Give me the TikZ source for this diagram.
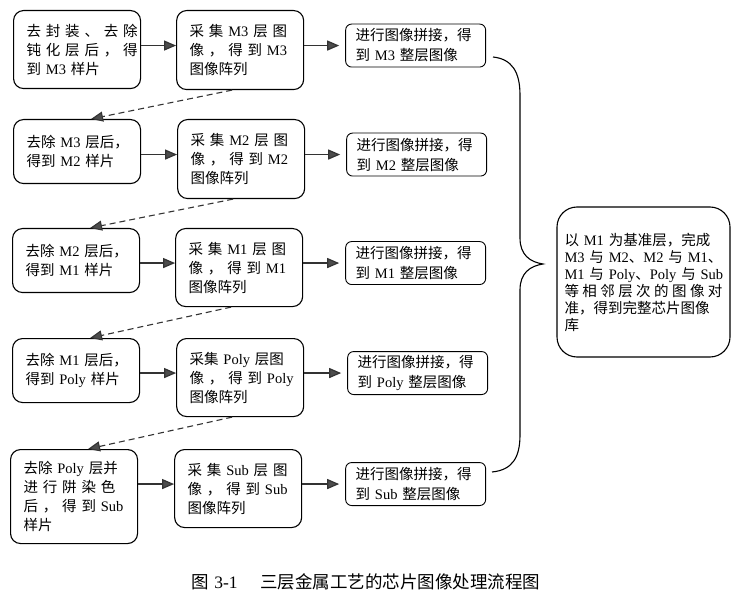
\documentclass[tikz,border=0pt]{standalone}
\usepackage{fontspec}
\setmainfont{Liberation Serif}
\newfontfamily\cjk[WordSpace=0.28]{Noto Sans CJK SC}
\usetikzlibrary{positioning, arrows.meta}

\newcommand{\lat}[1]{{\rmfamily #1}}
\newcommand{\jline}[1]{\makebox[\hsize][s]{#1}\\}

\tikzset{
  stepbox/.style={draw, rounded corners=10pt, line width=1.1pt, align=left,
    text width=101pt, inner xsep=13pt, inner ysep=4pt,
    font=\cjk\fontsize{14.5}{19}\selectfont},
  mosaic/.style={draw, rounded corners=6pt, line width=0.9pt, align=left,
    text width=120pt, inner xsep=10pt, inner ysep=3pt, minimum height=43pt,
    font=\cjk\fontsize{14.5}{20}\selectfont},
  result/.style={draw, rounded corners=20pt, line width=1.1pt, align=left,
    text width=158pt, inner xsep=7.5pt, minimum height=150pt,
    font=\cjk\fontsize{14.5}{17}\selectfont},
  flow/.style={->, draw=black!80, line width=1.2pt},
  peel/.style={->, draw=black!80, line width=1.1pt, dash pattern=on 6pt off 4pt},
}

\begin{document}
\begin{tikzpicture}[x=1pt, y=-1pt, >={Triangle[length=12pt, width=10pt, fill=black!70]}]
        \useasboundingbox (0,0) rectangle (748,599);

        % first column: preparing the samples
        \node (a1) [stepbox, minimum height=78pt, anchor=north west] at (13,10)
            {\jline{去 封 装 、 去 除}\jline{钝 化 层 后 ， 得}到 \lat{M3} 样片};
        \node (a2) [stepbox, minimum height=64pt, anchor=north west] at (13,119)
            {\jline{去除 \lat{M3} 层后，}得到 \lat{M2} 样片};
        \node (a3) [stepbox, minimum height=64pt, anchor=north west] at (12,228)
            {\jline{去除 \lat{M2} 层后，}得到 \lat{M1} 样片};
        \node (a4) [stepbox, minimum height=64pt, anchor=north west] at (12,338)
            {\jline{去除 \lat{M1} 层后，}得到 \lat{Poly} 样片};
        \node (a5) [stepbox, minimum height=94pt, anchor=north west] at (10,449)
            {\jline{去除 \lat{Poly} 层并}\jline{进 行 阱 染 色}\jline{后 ， 得 到 \lat{Sub}}样片};

        % second column: image arrays
        \node (b1) [stepbox, minimum height=79pt, right=35pt of a1.north east, anchor=north west]
            {\jline{采 集 \lat{M3} 层 图}\jline{像 ， 得 到 \lat{M3}}图像阵列};
        \node (b2) [stepbox, minimum height=79pt, right=36pt of a2.north east, anchor=north west]
            {\jline{采 集 \lat{M2} 层 图}\jline{像 ， 得 到 \lat{M2}}图像阵列};
        \node (b3) [stepbox, minimum height=78pt, right=35pt of a3.north east, anchor=north west]
            {\jline{采 集 \lat{M1} 层 图}\jline{像 ， 得 到 \lat{M1}}图像阵列};
        \node (b4) [stepbox, minimum height=78pt, right=36pt of a4.north east, anchor=north west]
            {\jline{采集 \lat{Poly} 层图}\jline{像 ， 得 到 \lat{Poly}}图像阵列};
        \node (b5) [stepbox, minimum height=78pt, right=36pt of a5.north east, anchor=north west]
            {\jline{采 集 \lat{Sub} 层 图}\jline{像 ， 得 到 \lat{Sub}}图像阵列};

        % third column: stitched layers
        \node (c1) [mosaic, right=41pt of b1, yshift=4.5pt] {进行图像拼接，得\\到 \lat{M3} 整层图像};
        \node (c2) [mosaic, right=41pt of b2, yshift=4.5pt] {进行图像拼接，得\\到 \lat{M2} 整层图像};
        \node (c3) [mosaic, right=42pt of b3, yshift=4.5pt] {进行图像拼接，得\\到 \lat{M1} 整层图像};
        \node (c4) [mosaic, right=43pt of b4, yshift=4.5pt] {进行图像拼接，得\\到 \lat{Poly} 整层图像};
        \node (c5) [mosaic, right=43pt of b5, yshift=4.5pt] {进行图像拼接，得\\到 \lat{Sub} 整层图像};

        \node (d) [result] at (643.5,282)
            {以 \lat{M1} 为基准层，完成\\
             \jline{\lat{M3} 与 \lat{M2}、\lat{M2} 与 \lat{M1}、}%
             \jline{\lat{M1} 与 \lat{Poly}、\lat{Poly} 与 \lat{Sub}}%
             \jline{等\hfil 相\hfil 邻\hfil 层\hfil 次\hfil 的\hfil 图\hfil 像\hfil 对}%
             准，得到完整芯片图像\\库\par\vspace{12pt}};

        \node (cap) [font=\cjk\fontsize{17.5}{20}\selectfont] at (366,582)
            {图\hspace{0.3em}\lat{3-1}\hspace{1.3em}三层金属工艺的芯片图像处理流程图};

        % arrows
        \draw[flow] (a1.east |- c1.west) -- (b1.west |- c1.west);
        \draw[flow] (a2.east |- c2.west) -- (b2.west |- c2.west);
        \draw[flow] (a3.east |- c3.west) -- (b3.west |- c3.west);
        \draw[flow] (a4.east |- c4.west) -- (b4.west |- c4.west);
        \draw[flow] (a5.east |- c5.west) -- (b5.west |- c5.west);
        \draw[flow, shorten >=6pt] (b1.east |- c1.west) -- (c1.west);
        \draw[flow, shorten >=6pt] (b2.east |- c2.west) -- (c2.west);
        \draw[flow, shorten >=6pt] (b3.east |- c3.west) -- (c3.west);
        \draw[flow, shorten >=6pt] (b4.east |- c4.west) -- (c4.west);
        \draw[flow, shorten >=6pt] (b5.east |- c5.west) -- (c5.west);

        \draw[peel] ([xshift=-8pt]b1.south) -- ([xshift=14pt]a2.north);
        \draw[peel] ([xshift=-8pt]b2.south) -- ([xshift=14pt]a3.north);
        \draw[peel] ([xshift=-8pt]b3.south) -- ([xshift=14pt]a4.north);
        \draw[peel] ([xshift=-8pt]b4.south) -- ([xshift=14pt]a5.north);

        % brace
        \draw[line width=1.1pt] (493,57) .. controls (512,59) and (520,72) .. (520,95)
            -- (520,238) .. controls (520,255) and (530,262) .. (543,264)
            .. controls (530,266) and (520,273) .. (520,290)
            -- (520,435) .. controls (520,458) and (512,470) .. (492,472);
    \end{tikzpicture}
\end{document}
